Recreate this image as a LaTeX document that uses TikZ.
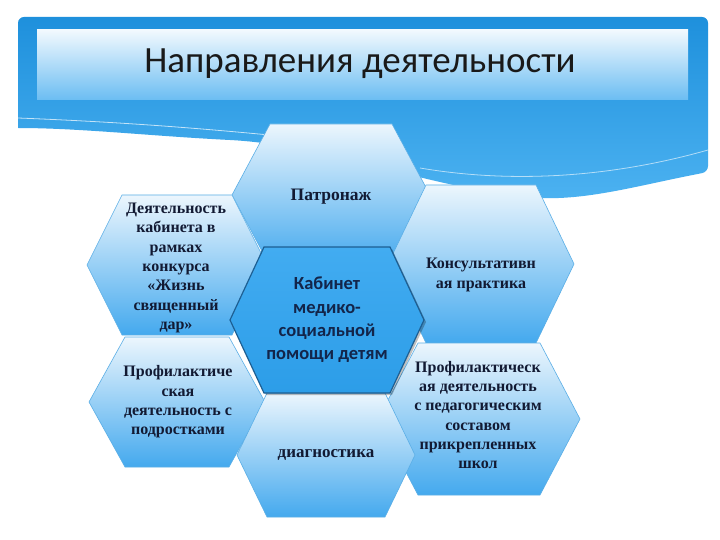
\documentclass[tikz,border=0pt]{standalone}
\usepackage{fontspec}
\setmainfont{Liberation Serif}
\newfontfamily\titlefont{Carlito}
\usetikzlibrary{shadows}
\definecolor{rimblue}{HTML}{1E90DC}
\definecolor{bandblue}{HTML}{4CB2F1}
\definecolor{paneltop}{HTML}{F2F9FE}
\definecolor{panelbot}{HTML}{6BBDF2}
\definecolor{hextop}{HTML}{ECF6FD}
\definecolor{hexbot}{HTML}{44A9EE}
\definecolor{hexline}{HTML}{5AAEE6}
\definecolor{ctop}{HTML}{42ACF1}
\definecolor{cbot}{HTML}{2C9DE8}
\definecolor{cline}{HTML}{1D5F93}
\definecolor{txtnavy}{HTML}{121A33}
\definecolor{ctxt}{HTML}{13254A}
\tikzset{
  hexouter/.style={top color=hextop, bottom color=hexbot, draw=hexline, line width=0.6pt},
  hexcenter/.style={top color=ctop, bottom color=cbot, draw=cline, line width=1.2pt},
  serlabel/.style={align=center, text=txtnavy, font=\bfseries\fontsize{16}{19.3}\selectfont, inner sep=0pt},
  sanslabel/.style={align=center, text=ctxt, font=\titlefont\bfseries\fontsize{18.5}{23.3}\selectfont, inner sep=0pt}
}
\newcommand{\hexpath}[5]{(#1-#3,#2) -- (#1-#4,#2-#5) -- (#1+#4,#2-#5) -- (#1+#3,#2) -- (#1+#4,#2+#5) -- (#1-#4,#2+#5) -- cycle}
\begin{document}
\begin{tikzpicture}[x=1pt,y=-1pt]
\useasboundingbox (0,0) rectangle (720,540);
\fill[white] (0,0) rectangle (720,540);
% header band
\shade[top color=rimblue, bottom color=bandblue, rounded corners=6pt]
  (18,128) -- (18,17) -- (708,17) -- (708,172) [sharp corners]
  .. controls (640,185) and (590,200) .. (540,198)
  .. controls (440,192) and (330,145) .. (230,140)
  .. controls (150,136) and (80,128) .. (18,128) -- cycle;
\shade[top color=paneltop, bottom color=panelbot] (37,30) rectangle (688,100);
\draw[white, opacity=0.7, line width=0.8pt] (18,118) .. controls (120,122) and (200,128) .. (300,138);
\draw[white, opacity=0.6, line width=0.8pt] (420,168) .. controls (520,185) and (620,175) .. (708,150);
\node (title) [font=\titlefont\fontsize{37}{40}\selectfont, text=black!90] at (360,64) {Направления деятельности};
% hexagons
\path[hexouter] \hexpath{331}{195}{99}{61}{71};
\path[hexouter] \hexpath{177}{265}{90}{55}{70};
\path[hexouter] \hexpath{177}{402}{88}{52}{65};
\path[hexouter] \hexpath{481}{264}{93}{55}{79};
\path[hexouter] \hexpath{479}{419}{101}{61}{76};
\path[hexouter] \hexpath{326}{455}{89}{59}{62};
\fill[black, opacity=0.25] \hexpath{329}{322}{97}{63}{73};
\path[hexcenter] \hexpath{327}{320}{97}{63}{73};
% labels
\node (lt) [serlabel] at (176,268) {Деятельность\\кабинета в\\рамках\\конкурса\\«Жизнь\\священный\\дар»};
\node (lb) [serlabel] at (178,402) {Профилактиче\\ская\\деятельность с\\подростками};
\node (tc) [serlabel, font=\bfseries\fontsize{17.5}{20}\selectfont] at (331,197) {Патронаж};
\node (rt) [serlabel] at (481,275) {Консультативн\\ая практика};
\node (rb) [serlabel] at (478,415) {Профилактическ\\ая деятельность\\с педагогическим\\составом\\прикрепленных\\школ};
\node (bc) [serlabel, font=\bfseries\fontsize{17}{20}\selectfont] at (326,455) {диагностика};
\node (c) [sanslabel] at (327,320) {Кабинет\\медико-\\социальной\\помощи детям};
\end{tikzpicture}
\end{document}
